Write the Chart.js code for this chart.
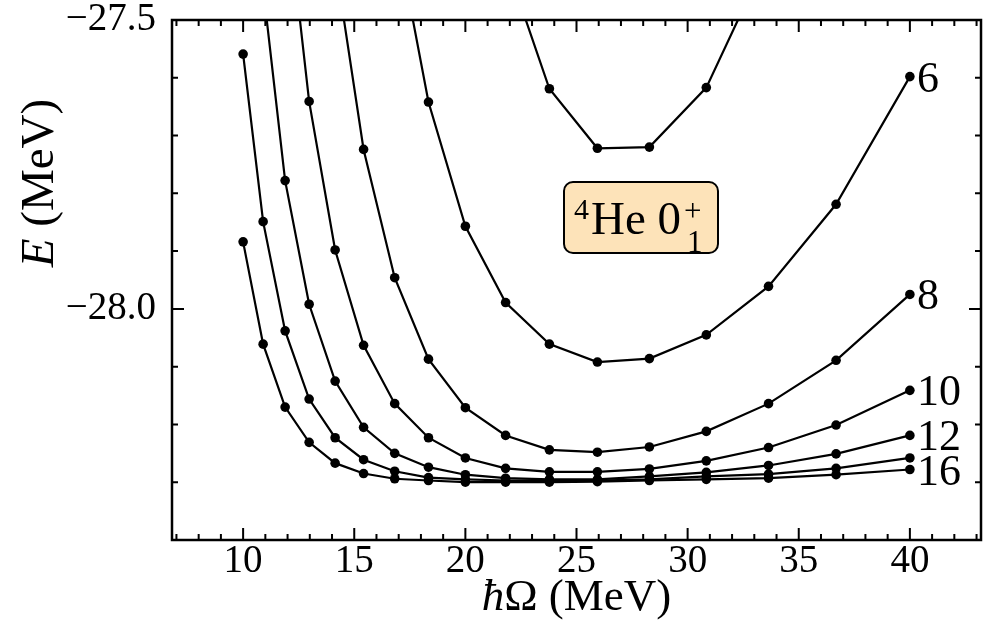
<!DOCTYPE html>
<html>
<head>
<meta charset="utf-8">
<script src="https://cdn.jsdelivr.net/npm/chart.js@4.4.1/dist/chart.umd.min.js"></script>
<style>
  html, body { margin: 0; padding: 0; background: #fff; }
  canvas { display: block; }
</style>
</head>
<body>
<canvas id="chart" width="986" height="622"></canvas>
<script>
// hbar*Omega grid (MeV)
const hbarOmega = [10, 10.9, 11.89, 12.97, 14.14, 15.42, 16.82, 18.34, 20, 21.81, 23.78, 25.94, 28.28, 30.84, 33.64, 36.68, 40];

// ground-state energy E (MeV) for each Nmax, null = not on the plot
const e4  = [null, null, null, null, null, null, null, null, null, -27.398, -27.619, -27.722, -27.720, -27.617, -27.387, null, null];
const e6  = [null, null, null, null, null, null, -27.334, -27.642, -27.857, -27.989, -28.061, -28.092, -28.086, -28.045, -27.961, -27.819, -27.598];
const e8  = [null, null, null, null, -27.399, -27.724, -27.946, -28.087, -28.171, -28.219, -28.244, -28.248, -28.239, -28.212, -28.164, -28.089, -27.975];
const e10 = [null, null, -27.273, -27.641, -27.898, -28.063, -28.164, -28.223, -28.258, -28.276, -28.282, -28.282, -28.277, -28.263, -28.240, -28.201, -28.141];
const e12 = [null, -27.445, -27.778, -27.992, -28.125, -28.205, -28.250, -28.274, -28.287, -28.293, -28.295, -28.295, -28.290, -28.283, -28.271, -28.251, -28.219];
const e14 = [-27.559, -27.849, -28.038, -28.156, -28.223, -28.261, -28.281, -28.292, -28.295, -28.297, -28.297, -28.297, -28.295, -28.290, -28.286, -28.276, -28.258];
const e16 = [-27.884, -28.061, -28.170, -28.231, -28.267, -28.285, -28.294, -28.297, -28.300, -28.300, -28.300, -28.299, -28.297, -28.295, -28.293, -28.287, -28.278];

const nmaxValues = ['4', '6', '8', '10', '12', '14', '16'];
const curveLabels = ['6', '8', '10', '12', '16'];
const xTickValues = [10, 15, 20, 25, 30, 35, 40];
const yTickValues = [-28.0, -27.5];

const SERIF = '"Liberation Serif", "DejaVu Serif", serif';

function toPoints(arr) {
    return hbarOmega.map((x, i) => ({ x: x, y: arr[i] })).filter(p => p.y !== null);
}

const series = [e4, e6, e8, e10, e12, e14, e16];

const datasets = series.map((arr, i) => ({
    label: nmaxValues[i],
    data: toPoints(arr),
    borderColor: '#000',
    backgroundColor: '#000',
    borderWidth: 2.2,
    pointRadius: 4.8,
    pointBorderWidth: 0,
    pointBackgroundColor: '#000',
    tension: 0,
    fill: false
}));

// frame, inward ticks, curve labels, box and axis titles
const decorations = {
    id: 'decorations',
    afterDatasetsDraw(chart) {
        const ctx = chart.ctx;
        const area = chart.chartArea;
        const xs = chart.scales.x;
        const ys = chart.scales.y;
        ctx.save();

        // frame
        ctx.strokeStyle = '#000';
        ctx.lineWidth = 2.5;
        ctx.strokeRect(area.left, area.top, area.right - area.left, area.bottom - area.top);

        // x ticks (top and bottom)
        ctx.lineWidth = 2;
        ctx.beginPath();
        for (let v = 7; v <= 43; v++) {
            const px = xs.getPixelForValue(v);
            const len = v % 5 === 0 ? 12 : 6;
            ctx.moveTo(px, area.bottom); ctx.lineTo(px, area.bottom - len);
            ctx.moveTo(px, area.top); ctx.lineTo(px, area.top + len);
        }
        // y ticks (left and right)
        for (let k = -284; k <= -275; k++) {
            const v = k / 10;
            const py = ys.getPixelForValue(v);
            const len = k % 5 === 0 ? 12 : 6;
            ctx.moveTo(area.left, py); ctx.lineTo(area.left + len, py);
            ctx.moveTo(area.right, py); ctx.lineTo(area.right - len, py);
        }
        ctx.stroke();

        // Nmax labels at the end of the curves
        ctx.fillStyle = '#000';
        ctx.font = '44px ' + SERIF;
        ctx.textAlign = 'left';
        ctx.textBaseline = 'alphabetic';
        curveLabels.forEach(lab => {
            const idx = chart.data.datasets.findIndex(d => d.label === lab);
            const pts = chart.getDatasetMeta(idx).data;
            const last = pts[pts.length - 1];
            ctx.fillText(lab, last.x + 7, last.y + 15);
        });

        // nucleus / state box
        const bx = 564, by = 182, bw = 154, bh = 71;
        ctx.beginPath();
        ctx.roundRect(bx, by, bw, bh, 9);
        ctx.fillStyle = '#fde3b9';
        ctx.fill();
        ctx.lineWidth = 2;
        ctx.strokeStyle = '#000';
        ctx.stroke();

        ctx.fillStyle = '#000';
        ctx.font = '30px ' + SERIF;
        ctx.fillText('4', 574, 219);
        ctx.font = '47px ' + SERIF;
        ctx.fillText('He 0', 591, 234);
        const after0 = 591 + ctx.measureText('He 0').width;
        ctx.font = '31px ' + SERIF;
        ctx.fillText('+', after0 + 3, 221);
        ctx.fillText('1', after0 + 6, 252);

        // x axis title
        ctx.textAlign = 'left';
        ctx.font = 'italic 45px ' + SERIF;
        const wh = ctx.measureText('\u0127').width;
        ctx.font = '45px ' + SERIF;
        const wr = ctx.measureText('\u03A9 (MeV)').width;
        const cx = (area.left + area.right) / 2;
        const startX = cx - (wh + wr) / 2;
        ctx.font = 'italic 45px ' + SERIF;
        ctx.fillText('\u0127', startX, 610);
        ctx.font = '45px ' + SERIF;
        ctx.fillText('\u03A9 (MeV)', startX + wh, 610);

        // y axis title
        ctx.save();
        ctx.translate(53, 183);
        ctx.rotate(-Math.PI / 2);
        ctx.font = 'italic 47px ' + SERIF;
        const we = ctx.measureText('E').width;
        ctx.font = '47px ' + SERIF;
        const wm = ctx.measureText(' (MeV)').width;
        const sx = -(we + wm) / 2;
        ctx.font = 'italic 47px ' + SERIF;
        ctx.fillText('E', sx, 0);
        ctx.font = '47px ' + SERIF;
        ctx.fillText(' (MeV)', sx + we, 0);
        ctx.restore();

        ctx.restore();
    }
};

new Chart(document.getElementById('chart'), {
    type: 'line',
    data: { datasets: datasets },
    options: {
        responsive: false,
        animation: false,
        devicePixelRatio: 1,
        layout: { padding: { top: 20, right: 5, left: 0, bottom: 0 } },
        plugins: {
            legend: { display: false },
            tooltip: { enabled: false },
            title: { display: false }
        },
        scales: {
            x: {
                type: 'linear',
                min: 6.8,
                max: 43.2,
                grid: { display: false },
                border: { display: false },
                afterBuildTicks: (scale) => { scale.ticks = xTickValues.map(v => ({ value: v })); },
                afterFit: (scale) => {
                    scale.height = 82;
                    scale.paddingLeft = 0;
                    scale.paddingRight = 0;
                },
                ticks: {
                    color: '#000',
                    padding: -10,
                    maxRotation: 0,
                    font: { family: SERIF, size: 39 },
                    callback: (v) => String(v)
                }
            },
            y: {
                type: 'linear',
                min: -28.4,
                max: -27.5,
                grid: { display: false },
                border: { display: false },
                afterBuildTicks: (scale) => { scale.ticks = yTickValues.map(v => ({ value: v })); },
                afterFit: (scale) => {
                    scale.width = 172;
                    scale.paddingTop = 0;
                    scale.paddingBottom = 0;
                },
                ticks: {
                    color: '#000',
                    padding: 8,
                    font: { family: SERIF, size: 39 },
                    callback: (v) => (v < 0 ? '\u2212' : '') + Math.abs(v).toFixed(1)
                }
            }
        }
    },
    plugins: [decorations]
});
</script>
</body>
</html>
